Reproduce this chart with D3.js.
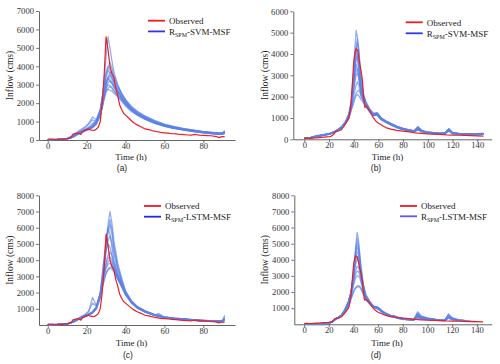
<!DOCTYPE html>
<html><head><meta charset="utf-8">
<script src="https://cdn.jsdelivr.net/npm/d3@7/dist/d3.min.js"></script>
<style>body{margin:0;background:#fff}svg{display:block}</style>
</head><body>
<script>
// ---------------- DATA ----------------
const N = null;
// Observed flood event 1 (panels a, c)
const obsT1 = [0,2,4,6,8,10,11,12,13,14,15,16,17,18,19,20,21,22,23,24,25,26,27,28,29,30,31,32,33,34,35,36,37,38,39,40,42,44,46,48,50,52,54,56,58,60,62,64,66,68,70,72,74,75,76,78,80,82,84,86,87,88,89,90,91];
const obsV1 = [50,50,40,40,50,80,100,150,320,350,380,370,300,450,520,560,600,550,530,520,600,700,1000,2000,3500,5600,4900,4000,3600,3400,2800,2400,1900,1650,1450,1350,1150,950,820,720,600,560,500,460,410,390,370,340,330,300,290,270,260,290,300,260,250,240,230,200,180,130,170,180,180];
// Observed flood event 2 (panels b, d)
const obsT2 = [0,2,4,6,8,10,12,14,16,18,20,22,24,25,26,28,30,32,34,36,37,38,39,40,41,42,43,44,45,46,47,48,49,50,52,54,56,58,60,63,66,70,75,80,85,88,90,95,100,105,110,115,120,125,130,135,140,145];
const obsV2 = [50,60,50,40,60,70,80,90,100,110,120,150,250,350,370,400,450,600,800,1000,1300,1800,2700,3600,4100,4250,4200,3900,3500,3200,2800,2000,1500,1550,1400,1200,1000,850,750,650,550,480,420,380,350,320,300,280,250,240,230,210,200,190,180,170,160,150];

// Ensemble R_SPM-SVM-MSF, event 1 (panel a)
const ensTA = [0,5,10,13,16,19,21,23,25,27,28,29,30,31,32,33,34,36,38,40,43,46,50,55,60,65,70,75,80,85,88,90,91];
const ensA = [
 [20,30,80,200,400,550,600,700,900,1500,2200,3200,4500,5600,5000,4300,3700,3000,2500,2100,1700,1450,1200,950,800,680,580,500,430,380,350,360,420],
 [20,30,70,180,380,520,650,800,1100,1700,2300,2900,3500,3900,4200,3900,3500,2900,2500,2150,1750,1500,1250,1000,820,700,600,520,450,400,370,380,450],
 [20,40,90,250,500,700,900,1250,1100,1600,2200,2800,3400,3800,3600,3300,3000,2700,2300,2000,1650,1400,1150,930,770,650,560,480,410,360,330,340,380],
 [20,30,60,150,330,480,550,650,850,1300,1800,2400,3000,3300,3500,3400,3200,2800,2450,2150,1800,1550,1300,1050,850,720,620,540,460,410,380,400,500],
 [20,30,60,160,350,500,600,750,1000,1500,1900,2400,2800,3000,2950,2800,2650,2400,2150,1900,1600,1380,1150,930,760,640,550,470,400,350,320,330,350],
 [20,30,60,170,360,520,620,700,900,1400,1800,2300,2700,2750,2700,2650,2550,2350,2100,1850,1550,1350,1120,900,740,620,530,450,390,340,310,320,340],
 [20,30,70,180,400,560,700,900,1000,1400,1900,2500,3000,3400,3650,3700,3400,2950,2550,2200,1820,1560,1300,1050,860,720,620,530,450,400,370,390,470],
 [20,35,80,220,450,650,850,1100,1000,1500,2100,2700,3100,3300,3200,3050,2850,2550,2250,1950,1620,1380,1150,920,750,630,540,460,390,340,310,330,360],
 [20,30,70,190,400,550,650,750,950,1600,2300,3000,3700,4000,3800,3500,3150,2700,2300,2000,1650,1420,1180,950,780,660,560,480,420,370,340,350,400],
 [20,30,60,160,350,500,580,680,900,1350,1800,2300,2800,3100,3200,3100,2950,2650,2350,2080,1720,1480,1230,990,810,690,590,510,440,390,360,380,440],
 [20,30,70,180,380,540,640,760,980,1500,2100,2700,3200,3400,3300,3100,2900,2600,2300,2020,1680,1440,1200,960,790,670,570,490,420,370,340,360,420],
 [20,30,60,160,350,500,600,720,950,1350,1750,2200,2600,2800,2900,2850,2700,2450,2200,1950,1620,1400,1170,940,770,650,560,480,410,360,330,340,380]
];

// Ensemble R_SPM-SVM-MSF, event 2 (panel b)
const ensTB = [0,5,10,15,20,25,30,33,36,38,40,41,42,43,44,45,46,48,50,53,56,59,62,66,70,75,80,85,89,92,95,100,105,110,114,117,120,125,130,135,140,145];
const ensB = [
 [50,90,170,220,270,380,580,800,1200,1800,3200,4300,5100,4800,4000,3200,2600,2000,1700,1380,1180,1230,1000,850,740,610,510,440,400,560,410,340,310,290,310,480,310,280,270,270,270,280],
 [50,80,160,210,260,370,570,780,1150,1700,2900,3700,4400,4700,4200,3400,2700,2050,1720,1400,1200,1240,1010,860,740,600,500,440,400,600,410,340,310,290,310,500,310,280,270,260,260,280],
 [50,80,150,200,250,360,560,770,1100,1650,2800,3600,4300,4000,3400,2800,2300,1900,1650,1350,1160,1200,980,840,720,590,490,430,390,520,400,330,300,280,300,450,300,270,260,250,250,260],
 [50,80,150,200,250,350,550,750,1100,1600,2600,3200,3700,3900,3600,3000,2500,1950,1680,1380,1170,1210,990,840,720,590,490,430,390,540,400,330,300,280,300,470,300,270,260,250,250,270],
 [40,70,140,190,240,340,540,740,1050,1550,2500,3100,3500,3300,2900,2500,2150,1850,1620,1340,1140,1180,960,830,710,580,480,420,380,500,390,320,290,270,290,430,290,260,250,240,240,260],
 [40,70,140,190,240,340,530,730,1050,1500,2300,2700,3000,3100,2900,2500,2200,1850,1600,1320,1130,1170,950,820,700,570,470,410,370,480,380,310,280,260,280,420,280,250,240,230,230,250],
 [40,70,140,190,240,340,530,720,1000,1450,2000,2300,2550,2700,2550,2300,2050,1800,1580,1310,1120,1160,940,810,690,560,460,400,360,470,370,300,270,250,270,400,270,240,230,220,220,240],
 [40,70,130,180,230,330,520,710,980,1400,1800,2000,2150,2250,2300,2200,2000,1750,1550,1300,1110,1150,930,800,680,550,450,390,350,450,360,300,270,250,270,390,270,240,230,220,220,240],
 [40,70,130,180,230,330,520,700,950,1350,1700,1900,2050,2100,2050,1950,1850,1700,1520,1280,1100,1140,920,790,670,540,440,380,340,440,350,290,260,240,260,380,260,230,220,210,210,230],
 [50,80,160,210,260,370,570,780,1150,1700,2800,3500,4200,4500,4300,3600,2900,2100,1750,1420,1210,1250,1020,860,750,610,510,440,400,580,410,340,310,290,310,480,310,280,270,260,260,270],
 [50,80,150,200,250,360,560,760,1100,1650,2700,3400,4000,3800,3300,2750,2300,1900,1650,1360,1160,1200,980,840,720,590,490,430,390,530,400,330,300,280,300,460,300,270,260,250,250,270],
 [40,70,140,190,240,340,540,740,1050,1520,2400,2900,3200,3300,3100,2650,2250,1850,1610,1330,1140,1180,950,820,700,570,470,410,370,490,380,310,280,260,280,420,280,250,240,230,230,250]
];

// Ensemble R_SPM-LSTM-MSF, event 1 (panel c)
const ensTC = [0,5,10,13,16,19,21,23,25,27,28,29,30,31,32,33,34,36,38,40,43,46,50,55,57,60,65,70,75,80,85,88,90,91];
const ensC = [
 [20,30,70,180,380,520,620,750,1000,1800,2700,3800,5000,6200,7000,6300,5200,3800,2900,2100,1500,1150,880,640,580,500,430,380,330,290,260,250,280,420],
 [20,30,70,180,380,520,620,760,1050,1900,2800,3800,4900,5900,6500,5900,4900,3600,2750,2050,1470,1120,860,630,570,490,420,370,320,280,250,240,270,380],
 [20,30,70,190,400,560,680,820,1100,2000,3000,4200,5300,6000,5600,4800,4000,3100,2500,1950,1420,1100,840,620,560,480,410,360,310,270,240,230,260,350],
 [20,30,70,180,380,530,640,780,1050,1800,2600,3500,4500,5200,5500,5100,4400,3400,2650,2000,1450,1110,850,630,570,490,420,370,320,280,250,250,290,500],
 [20,30,70,190,420,600,800,1700,1200,1900,2600,3300,3900,4300,4500,4300,3900,3150,2550,1980,1430,1090,830,610,550,470,400,350,300,260,230,230,260,340],
 [20,30,70,180,380,540,650,800,1100,1800,2500,3100,3600,3900,4000,3850,3500,2950,2450,1920,1400,1070,820,600,720,460,390,340,290,250,220,220,250,320],
 [20,30,70,170,360,520,620,750,1000,1700,2300,2800,3200,3450,3550,3600,3400,2850,2400,1880,1380,1060,800,590,540,450,380,330,280,240,210,210,240,300],
 [20,35,80,220,450,650,850,1350,1150,1900,2600,3100,3500,3750,3800,3700,3400,2880,2380,1900,1390,1060,810,600,640,460,390,340,290,250,220,220,250,330],
 [20,30,70,180,380,530,640,770,1050,1850,2700,3700,4800,5700,6200,5600,4700,3500,2700,2050,1480,1130,870,640,580,500,430,380,330,290,260,260,300,600],
 [20,30,70,190,400,560,680,800,1100,2000,3000,4000,4700,5000,4800,4300,3700,2950,2400,1900,1400,1080,820,610,550,470,400,350,300,260,230,230,260,360],
 [20,30,70,180,390,550,660,790,1080,1850,2550,3200,3800,4100,4200,4000,3650,3050,2500,1950,1420,1080,830,610,560,470,400,350,300,260,230,230,260,350],
 [20,30,60,170,360,510,610,740,990,1650,2250,2750,3150,3400,3500,3450,3300,2800,2350,1850,1360,1040,790,590,530,440,380,330,280,240,210,210,240,300]
];

// Ensemble R_SPM-LSTM-MSF, event 2 (panel d)
const ensTD = [0,5,10,15,20,23,25,28,30,33,36,38,40,41,42,43,44,45,46,48,50,53,56,60,63,66,70,73,76,80,85,89,92,95,100,107,110,114,117,120,125,130,135,140,145];
const ensD = [
 [10,10,20,30,60,180,320,440,540,850,1350,1900,3100,4100,4900,5700,5300,4500,3700,2500,1850,1450,1150,1050,850,700,560,520,440,380,330,320,780,520,400,300,N,N,N,N,N,N,N,N,N],
 [10,10,20,30,60,180,320,450,550,870,1400,1950,3000,3900,4700,5300,5000,4300,3500,2450,1800,1420,1130,1030,840,690,550,510,430,370,320,310,650,470,380,300,280,270,600,400,290,N,N,N,N],
 [10,10,20,30,50,170,310,440,540,900,1450,2000,3000,3800,4400,4800,4600,4000,3300,2350,1750,1400,1120,1000,820,680,540,500,420,360,310,300,560,430,360,290,270,260,500,350,270,240,N,N,N],
 [10,10,20,30,50,170,300,430,530,880,1400,1950,2900,3600,4200,4500,4300,3800,3200,2300,1720,1380,1110,990,810,670,530,490,410,350,300,290,520,400,340,280,260,250,450,330,260,230,200,N,N],
 [10,10,20,30,50,170,300,430,520,860,1350,1900,2800,3400,3800,4000,3900,3500,3000,2200,1680,1360,1100,980,800,660,520,480,400,340,290,280,470,380,320,270,250,240,420,310,250,220,190,170,N],
 [10,10,20,30,50,160,290,420,510,840,1300,1800,2600,3100,3400,3600,3550,3300,2900,2150,1650,1350,1090,970,790,650,510,470,390,330,290,280,450,360,310,260,250,240,400,300,240,210,N,N,N],
 [10,10,20,30,50,160,290,420,500,820,1250,1750,2500,2900,3150,3300,3280,3100,2800,2100,1620,1330,1080,1050,780,640,500,460,390,330,290,280,700,450,350,280,N,N,N,N,N,N,N,N,N],
 [10,10,20,30,50,150,280,410,500,800,1200,1700,2400,2700,2900,3000,3000,2900,2650,2050,1600,1320,1070,960,780,630,500,460,380,320,280,270,420,340,300,260,240,230,650,380,260,220,N,N,N],
 [10,10,20,30,50,150,280,400,490,780,1150,1600,2000,2200,2300,2380,2400,2350,2250,1900,1550,1300,1060,950,770,620,490,450,370,310,270,260,400,330,290,250,230,220,380,280,230,200,180,160,N],
 [10,10,20,30,50,150,280,400,490,770,1100,1550,1950,2150,2250,2300,2330,2300,2200,1880,1530,1290,1050,940,760,610,480,440,370,310,270,260,600,380,300,260,N,N,N,N,N,N,N,N,N],
 [10,10,20,30,60,180,320,450,550,900,1450,2000,3100,4000,4700,5000,4800,4200,3400,2400,1780,1420,1130,1040,840,690,550,510,430,370,320,310,600,450,370,290,270,260,550,380,280,240,N,N,N],
 [10,10,20,30,50,170,300,430,530,870,1380,1920,2850,3500,4000,4200,4100,3700,3100,2250,1700,1370,1100,985,805,665,525,485,405,345,295,285,500,390,330,275,255,245,430,320,255,225,N,N,N]
];

const xTicks1 = [0,20,40,60,80];
const xTicks2 = [0,20,40,60,80,100,120,140];
const yTicksA = [0,1000,2000,3000,4000,5000,6000,7000];
const yTicksB = [0,1000,2000,3000,4000,5000,6000];
const yTicksCD = [1000,2000,3000,4000,5000,6000,7000,8000];
const panelLabels = ["(a)","(b)","(c)","(d)"];
const modelNames = ["SVM-MSF","SVM-MSF","LSTM-MSF","LSTM-MSF"];

// ---------------- DRAW ----------------
const svg = d3.select("body").append("svg").attr("width",500).attr("height",364);
const serif = "'Liberation Serif','Times New Roman',serif";
const RED = "#ee1c25", ENS = "#5b82e6";

const panels = [
 {xDom:[-4.5,96.3], xR:[39,235], yDom:[0,7000], yR:[140,11], yTicks:yTicksA, xTicks:xTicks1,
  obsT:obsT1, obsV:obsV1, ensT:ensTA, ens:ensA, leg:[148,20.7,10.7], lab:[10,131,160,122,170.5], legBlue:"#3434e4"},
 {xDom:[-8.9,151.7], xR:[293.3,491.7], yDom:[0,6000], yR:[139.3,11.3], yTicks:yTicksB, xTicks:xTicks2,
  obsT:obsT2, obsV:obsV2, ensT:ensTB, ens:ensB, leg:[405.7,22.3,11], lab:[265,387.5,159.5,376,170.5], legBlue:"#3434e4"},
 {xDom:[-4.5,96.3], xR:[39,235], yDom:[0,8000], yR:[325,195.3], yTicks:yTicksCD, xTicks:xTicks1,
  obsT:obsT1, obsV:obsV1, ensT:ensTC, ens:ensC, leg:[144,206,10.7], lab:[10,131.5,345.5,128,358], legBlue:"#2828d8"},
 {xDom:[-7.9,152], xR:[294.3,491.7], yDom:[0,8000], yR:[324.3,195.3], yTicks:yTicksCD, xTicks:xTicks2,
  obsT:obsT2, obsV:obsV2, ensT:ensTD, ens:ensD, leg:[400,206,10.3], lab:[265,387,345.5,376,358], legBlue:"#5a5af2"}
];

panels.forEach((p, k) => {
  const g = svg.append("g");
  const x = d3.scaleLinear().domain(p.xDom).range(p.xR);
  const y = d3.scaleLinear().domain(p.yDom).range(p.yR);

  const ax = g.append("g").attr("transform",`translate(0,${p.yR[0]})`)
    .call(d3.axisBottom(x).tickValues(p.xTicks).tickSize(3).tickSizeOuter(0).tickPadding(0).tickFormat(d3.format("d")));
  const ay = g.append("g").attr("transform",`translate(${p.xR[0]},0)`)
    .call(d3.axisLeft(y).tickValues(p.yTicks).tickSize(3).tickSizeOuter(0).tickPadding(2).tickFormat(d3.format("d")));
  [ax, ay].forEach(a => {
    a.select(".domain").attr("stroke","#555").attr("stroke-width",0.9);
    a.selectAll(".tick line").attr("stroke","#555").attr("stroke-width",0.8);
    a.selectAll(".tick text").attr("fill","#333").style("font-family",serif).style("font-size","8.6px");
  });

  const line = d3.line().defined(d => d[1] != null).x(d => x(d[0])).y(d => y(d[1]));
  p.ens.forEach(m => {
    g.append("path").datum(p.ensT.map((t,i) => [t, m[i]]))
      .attr("d", line).attr("fill","none").attr("stroke",ENS)
      .attr("stroke-opacity",0.65).attr("stroke-width",1.3).attr("stroke-linejoin","round");
  });
  g.append("path").datum(p.obsT.map((t,i) => [t, p.obsV[i]]))
    .attr("d", line).attr("fill","none").attr("stroke",RED).attr("stroke-width",1.2).attr("stroke-linejoin","round");

  // axis titles
  const [ylx, xlx, xly, plx, ply] = p.lab;
  const ymid = (p.yR[0] + p.yR[1]) / 2;
  g.append("text").attr("transform",`translate(${ylx + 3},${ymid}) rotate(-90)`)
    .attr("text-anchor","middle").style("font-family",serif).style("font-size","9.5px").attr("fill","#222").text("Inflow (cms)");
  g.append("text").attr("x",xlx).attr("y",xly).attr("text-anchor","middle")
    .style("font-family",serif).style("font-size","9px").attr("fill","#222").text("Time (h)");
  g.append("text").attr("x",plx).attr("y",ply).attr("text-anchor","middle")
    .style("font-family","'Liberation Sans',Arial,sans-serif").style("font-size","8.5px").attr("fill","#222").text(panelLabels[k]);

  // legend
  const [lx, ly, dy] = p.leg;
  g.append("line").attr("x1",lx).attr("x2",lx+17).attr("y1",ly).attr("y2",ly).attr("stroke",RED).attr("stroke-width",1.8);
  g.append("line").attr("x1",lx).attr("x2",lx+17).attr("y1",ly+dy).attr("y2",ly+dy).attr("stroke",p.legBlue).attr("stroke-width",1.8);
  g.append("text").attr("x",lx+21).attr("y",ly+3.3).style("font-family",serif).style("font-size","9px").attr("fill","#222").text("Observed");
  const t2 = g.append("text").attr("x",lx+21).attr("y",ly+dy+3.3).style("font-family",serif).style("font-size","9px").attr("fill","#222");
  t2.append("tspan").text("R");
  t2.append("tspan").attr("dy",2).style("font-size","6px").text("SPM");
  t2.append("tspan").attr("dy",-2).text("-" + modelNames[k]);
});
</script>
</body></html>
